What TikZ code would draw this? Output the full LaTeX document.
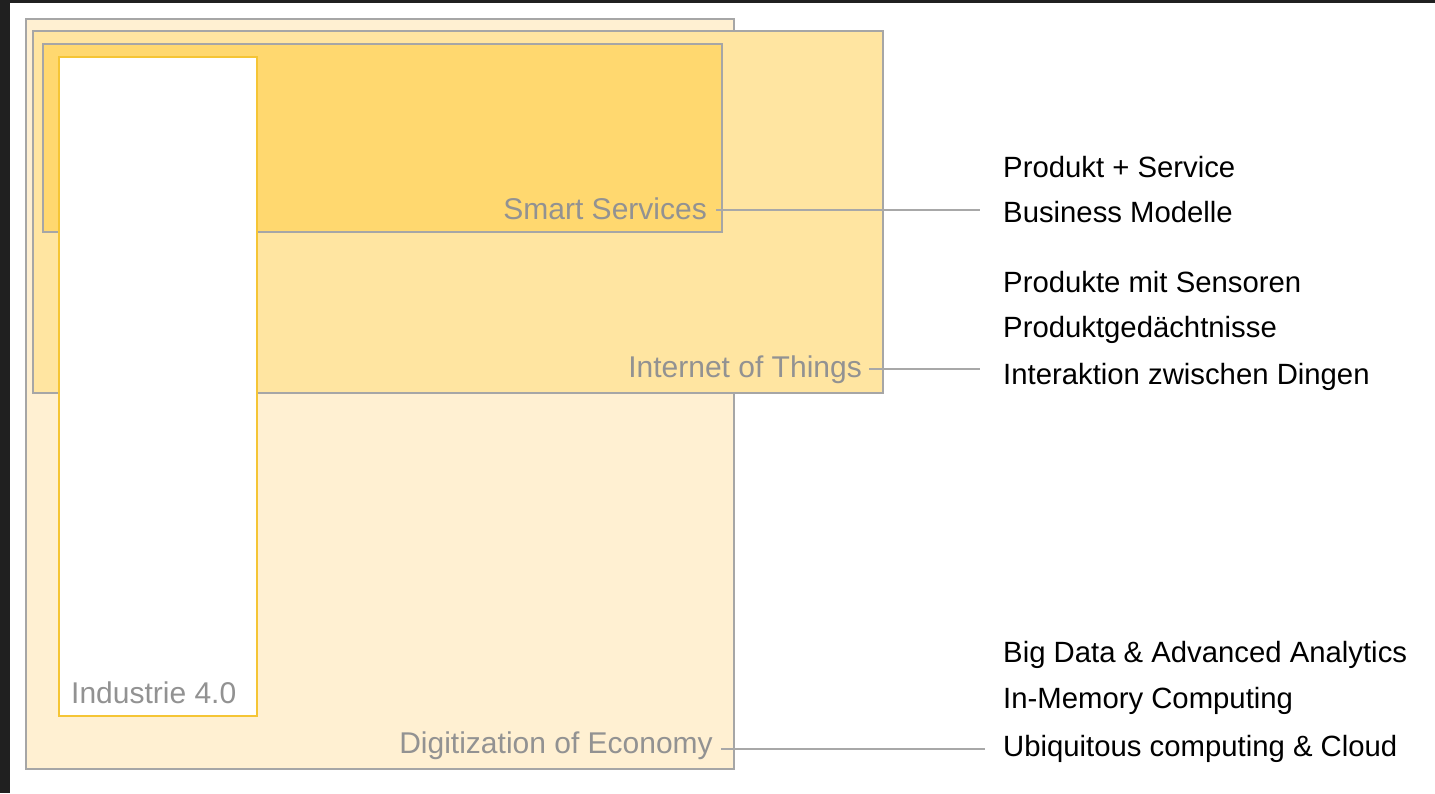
\documentclass[tikz,border=0pt]{standalone}
\usepackage{fontspec}
\setmainfont{Liberation Sans}
\definecolor{frame}{HTML}{202020}
\definecolor{digfill}{HTML}{FFF0D2}
\definecolor{iotfill}{HTML}{FFE5A1}
\definecolor{ssfill}{HTML}{FFD86F}
\definecolor{boxline}{HTML}{A6A6A6}
\definecolor{indline}{HTML}{F5C535}
\definecolor{labgray}{HTML}{929292}
\definecolor{conngray}{HTML}{A8A8A8}
\begin{document}
\begin{tikzpicture}[x=1pt,y=-1pt,
  layer/.style={draw=boxline,line width=1.3pt,inner sep=0pt,outer sep=0pt,anchor=north west},
  indbox/.style={draw=indline,fill=white,line width=1.4pt,inner sep=0pt,outer sep=0pt,anchor=north west},
  lab/.style={text=labgray,inner sep=0pt,anchor=base east,font=\fontsize{30}{35}\selectfont},
  item/.style={text=black,inner sep=0pt,anchor=base west,font=\fontsize{29.3}{34}\selectfont},
  conn/.style={draw=conngray,line width=1.3pt}]
\useasboundingbox (0,0) rectangle (1435,793);
\fill[white] (0,0) rectangle (1435,793);
\fill[frame] (0,0) rectangle (10,793);
\fill[frame] (0,0) rectangle (1435,3);
% layers
\node[layer,fill=digfill,minimum width=708pt,minimum height=750pt] (dig) at (26,19) {};
\node[layer,fill=iotfill,minimum width=850pt,minimum height=362pt] (iot) at (33,31) {};
\node[layer,fill=ssfill,minimum width=679pt,minimum height=188pt] (ssb) at (43,44) {};
\node[indbox,minimum width=198pt,minimum height=659pt] (ind) at (59,57) {};
% labels
\node[lab] (ss) at (707,219) {Smart Services};
\node[lab] (it) at (862,377) {Internet of Things};
\node[lab] (de) at (713,753) {Digitization of Economy};
\node[lab,anchor=base west] (i4) at (71,703) {Industrie 4.0};
% items
\node[item] (p1) at (1003,177) {Produkt + Service};
\node[item] (p2) at (1003,222) {Business Modelle};
\node[item] (p3) at (1003,292) {Produkte mit Sensoren};
\node[item] (p4) at (1003,337) {Produktgedächtnisse};
\node[item] (p5) at (1003,384) {Interaktion zwischen Dingen};
\node[item] (p6) at (1003,662) {Big Data \& Advanced Analytics};
\node[item] (p7) at (1003,708) {In-Memory Computing};
\node[item] (p8) at (1003,756) {Ubiquitous computing \& Cloud};
% connector ends
\coordinate (e1) at (980,210);
\coordinate (e2) at (980,369);
\coordinate (e3) at (985,749);
\draw[conn] ([shift={(9,-9)}]ss.base east) -- (e1);
\draw[conn] ([shift={(7,-8)}]it.base east) -- (e2);
\draw[conn] ([shift={(8,-4)}]de.base east) -- (e3);
\end{tikzpicture}
\end{document}
